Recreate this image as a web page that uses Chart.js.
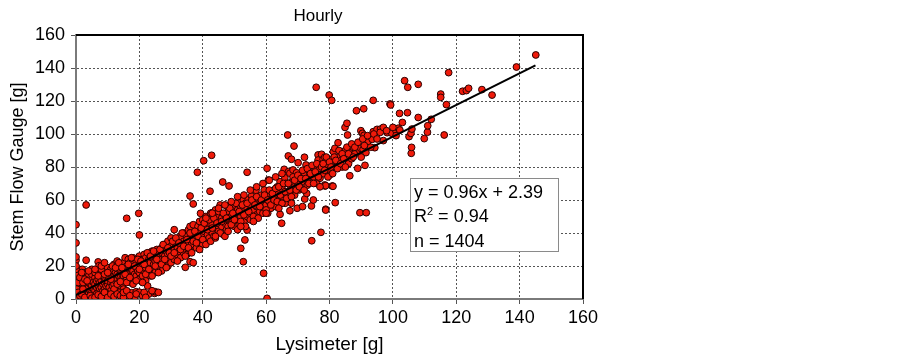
<!DOCTYPE html>
<html>
<head>
<meta charset="utf-8">
<script src="https://cdn.jsdelivr.net/npm/chart.js@4"></script>
<style>
  html, body { margin: 0; padding: 0; background: #fff; }
  #wrap { width: 903px; height: 364px; }
</style>
</head>
<body>
<div id="wrap"><canvas id="c" width="903" height="364"></canvas></div>
<script>
// hourly points (lysimeter x, stem flow gauge y)
const lysX = [
  0,0,0,0,0,0,0,0,0,0,0,0,0,0,0,0.5,0.5,0.5,0.5,0.5,0.5,1,1,1,1,1,1,1,1.5,1.5,1.5,1.5,2,2,2,2,2,2,2.5,2.5,2.5,3,3,3,3,3,3.2,3.2,
  3.5,3.5,4,4,4,4,4,4.5,4.5,5,5,5,5,5,5.5,5.5,6,6,6,6,6.5,6.5,7,7,7,7,7,7.3,7.5,7.5,7.5,8,8,8,8,8.5,8.5,8.5,9,9,9,9,9.5,9.5,9.5,10,10,10,10,10,
  10.5,10.5,11,11,11,11,11.5,11.5,12,12,12,12,12,12.5,12.5,13,13,13,13,13,13.5,13.5,14,14,14,14,14,14.5,14.5,15,15,15,15,15.5,15.5,16,16,16,16,16,16.5,16.5,17,17,17,17,17.5,17.5,17.5,18,18,18,18,18.6,18.5,19,19,19,19,19.5,19.8,20,20,20,20,20,20,
  20.5,21,21,21,21.5,21.5,22,22,22,22,22.6,22.5,23,23,23,23,23.5,23.5,24,24,24,24.8,24.5,25,25,25,25,25.5,26,26,26,26.5,27,27,27,27.5,28,28,28,28.5,29,29,29,29.5,30,30,30,30,
  30.5,31,31,31,31.5,32,32,32,32.5,33,33,33,33.5,34,34,34,34.5,34.5,35,35,35,35.5,36,36,36,36,36,37,37,36.5,37,37,37.5,38,38,38,38.3,38.5,39,39,39,39.3,39.5,40,40,40,40,40.3,
  40.5,41,41,41,41.5,42,42,42,42.3,42.8,42.5,43,43,43,43.5,44,44,44,44.9,45,45,45,45.5,46,46,46.3,46.5,47,47,47.5,47.5,48,48,48.3,48.5,48.9,49,49,49.5,50,50,50,
  50.5,51,51.2,51,51.5,52,52,52,52.8,52.8,53,53.3,53,53.5,54,54,54,54,54.4,55,55,55.4,55.5,56,56,56.8,57,57,57.5,58,58,58.5,59,59.2,59.4,60,60,60.3,60.3,60.7,
  60.5,61,61,61.5,62,62,62.5,63,63,63.5,64,64,64.4,64.4,64.9,65,65,65.7,65.9,66,66.2,66.8,67,67,67.1,67.5,67.5,68,68,68,68.5,68.8,69,69,69.6,69.8,70,70.1,70.4,70.7,
  71,71.5,72,72.1,72.2,72.2,72.6,72.8,73,73.8,74,74.3,74.4,74.9,74.9,75,75.4,75.8,76,76.4,76.4,77,77,77.3,77.5,78,78,78.5,78.5,78.6,78.8,78.8,78.8,78.9,79.1,79.5,79.9,
  80,80.6,80.7,80.9,81.1,81.2,81.7,81.8,82,82.2,82.7,83,83.8,84,84.3,84.9,85,85.5,85.7,86,86.1,86.4,86.4,87,87.5,88,88.5,88.9,89.6,89.6,89.9,89.9,90.4,90.6,90.8,90.9,91.2,91.5,91.6,92,93.3,93.5,93.8,93.8,94.3,95,96.1,97,98.2,99.1,99.3,99.7,
  100.9,101.7,102.1,102.2,103.7,104.6,104.7,105.1,105.7,105.8,105.9,108,109.9,110.9,112.1,115.1,115.1,116.2,116.9,117.6,122,123.2,123.9,128.1,131.3,139,145.1,
  // thicker band
  5,5.5,6,6.5,7,7.5,8,8.5,9,9.5,10,10.5,11,11.5,12,12.5,13,13.5,14,14.5,15,15.5,16,16.5,17,17.5,18,18.5,19,19.5,20,20.5,21,21.5,22,22.5,23,23.5,24,24.5,25,25.5,26,26.5,27,27.5,28,28.5,29,29.5,30,30.5,
  31,31.5,32,32.5,33,33.5,34,34.5,35,35.5,36,36.5,37,37.5,38,38.5,39,39.5,40,40.5,41,41.5,42,42.5,43,43.5,44,44.5,45,45.5,46,46.5,47,47.5,48,48.5,49,49.5,50,50.5,51,51.5,52,52.5,53,53.5,54,54.5,55,55.5,56,56.5,57,57.5,58,58.5,59,59.5,60,
  60.5,61,61.5,62,62.5,63,63.5,64,64.5,65,65.5,66,66.5,67,67.5,68,68.5,69,69.5,70,70.5,71,71.5,72,72.5,73,73.5,74,74.5,75,75.5,76,76.5,77,77.5,78,78.5,79,79.5,80,80.5,81,81.5,82,82.5,83,83.5,84,84.5,85,85.5,86,87,87.5,88,89,90,90.5,91,92,93,94,95,96,97,98,100,101,103,106,108,111,
  0,0,0,0,0,0,0,0,0.3,0.3,0.7,0.7,1.2,1.2,1.8,1.8,2.2,2.2,2.8,2.8,3.5,4,4.5,5,6,7,8,9,10,11,12,13,14,15,15,16,17,19,21,21.5,22,24,26,6,8,9,
  41,43,45,47,49,51,53,55,57,59,61,63,65,44,48,52,56,60,64,68
]
const gaugeY = [
  0,1,2,3,4,6,8,10,12,14,17,23.5,25.5,34,45,0,2,5,9,13,16,0.5,3,6,8,11,15,18,1,4,7,12,0,2,5,9,14,18,3,7,11,1,4,8,13,16,23.5,57,
  2,6,0.5,3,7,10,14,5,9,1,4,8,12,15,6,10,2,5,9,13,7,11,1,4,8,12,22.5,20.2,6,10,15,3,7,11,14,5,9,17,2,6,10,13,8,12,16,4,9,11,14,19,
  7,13,5,10,15,18,8,12,3,9,14,17,21,11,16,6,12,15,19,23,10,14,4.4,8,13,17,20,12,16,9,14,18,22,11,25,3.8,13,17,20,48.9,15,24,10,16,19,22,3.8,14,18,12,17,21,25,1.4,15,4.4,14,19,23,17,51.9,38.8,4.1,12,16,21,26,
  18,14,20,24,17,27,11,19,22,25,7.9,16,3,20,24,28,14,22,18,25,29,3.4,21,4.4,16,23,27,30,19,25,28,22,17,24,31,27,21,26,33,29,20,27,35,24,22,29,32,37,
  26,24,30,42,33,27,31,36,29,25,33,38,30,28,35,40,19.2,32,27,34,38,42,22.6,30,36,44,62.4,22,57.6,33,39,45,35,31,37,41,76.8,44,34,40,47,51.9,37,33,39,43,48,83.8,
  41,36,44,50,39,37,42,46,65.3,87.1,52,40,45,52.3,38,43,48,54,51.9,41,46,50,57,44,49,70.9,39,46,51,56.4,42,48,53,68.5,45,56.4,50,55,47,44,52,57,
  49,48,59,54,45,30.7,50,56,22.6,60,47,35.8,53,58,41.8,50,55,76.8,60.4,52,57,62.4,48,54,59,65.9,51,56,61,53,58,63,55,15.6,66.1,57,62,0.4,79.2,72.1,
  52,59,64,55,58,61,66,56,62,68,60,64,51.3,71.1,45.9,62,67,78.6,73.5,58,70.1,99.4,64,86.7,77.2,53.5,76.2,66,71,84.7,78.2,92.7,63,68,76.5,55,70,82.6,66.1,73.2,
  67,56,71,85.9,60.6,75.2,81.2,64,69,76.2,72,56.4,35.3,60,71.1,74,78.2,128.3,70,87.3,84.2,79.2,73.2,40.4,87.7,84.7,76,69.1,85.9,68.5,54.4,53.9,68.7,82.6,80.2,78,123.6,
  75,84.7,120.4,68.5,68.3,89.3,91.3,58.4,80,83.2,94.7,86,84.2,80,87.9,104,90,106.5,99.4,82,86.2,74.7,90.3,85,91.9,87.9,114.1,79.2,52.3,89.9,91.3,102,100.4,90.7,115.3,99.2,81,88.7,52.3,95,98.8,96.8,120.4,101.4,91.7,102.8,103,96,100.8,118.2,117.6,100.4,
  102.4,103.5,112.5,102.4,132.3,112.9,128.3,98.4,100.4,88.3,91.9,130.1,97.2,101.1,108.9,124.2,122.2,99.4,117.8,137.2,125.9,126.3,127.7,126.9,123.6,140.6,147.9,
  // thicker band
  18,2,16,3,14,1.5,18,1,15,3.5,16,2,12,20,6,19,9,22,10.5,19,6,15,10,21,13,25,9,20,11,24,18,23,10,21,15,28,18,26,14,29,20,24,16,30,21,33,24,19,31,28,26,35,
  28,37,23,34,30,40,32,26,36,31,40,28,35,41,34,38,30,43,36,46,33,42,48,35,43,49,37,46,53,40,47,52,38,49,44,55,45,52,48,58,42,53,47,57,51,44,58,53,48,60,50,57,62,49,56,60,52,63,54,
  60,66,57,64,60,67,59,68,63,58,70,65,61,70,66,62,74,72,66,75,68,73,78,66,73,79,70,76,81,70,77,82,74,68,80,82,78,86,74,83,80,76,86,84,79,90,82,88,85,80,92,88,94,86,92,95,86,97,93,99,92,100,97,101,104,102,104,99,107,103,110,105,
  5,7,9,11,13,15,18,20,1,6,4,10,2,13,3,16,6,10,1,12,11,17,2,0.5,1,2.5,1.5,4,1,3,1.5,3,2,1,4,5,2,3,2,4,1,5,4,18,20,22,
  49,52,55,57,59,62,63,66,68,70,72,74,76,38,41,44,47,52,55,58
]

// fitted line ends, as drawn
const trendX = [0, 145]
const trendY = [2.4, 141.6]

const xTicks = [0, 20, 40, 60, 80, 100, 120, 140, 160]
const yTicks = [0, 20, 40, 60, 80, 100, 120, 140, 160]

const statLines = ['y = 0.96x + 2.39', 'R', ' = 0.94', 'n = 1404']

const FONT = "'Liberation Sans', Arial, sans-serif"

const points = lysX.map((x, i) => ({ x, y: gaugeY[i] }))
const trend = trendX.map((x, i) => ({ x, y: trendY[i] }))

const extras = {
  id: 'extras',
  afterDatasetsDraw(chart) {
    const { ctx, chartArea } = chart
    ctx.save()
    // top and right frame in black
    ctx.strokeStyle = '#000'
    ctx.lineWidth = 2
    ctx.beginPath()
    ctx.moveTo(chartArea.left, chartArea.top)
    ctx.lineTo(chartArea.right, chartArea.top)
    ctx.lineTo(chartArea.right, chartArea.bottom)
    ctx.stroke()

    // stats box
    const bx = 410, by = 178, bw = 148, bh = 73
    ctx.fillStyle = '#fff'
    ctx.fillRect(bx, by, bw, bh)
    ctx.strokeStyle = '#8a8a8a'
    ctx.lineWidth = 1
    ctx.strokeRect(bx + 0.5, by + 0.5, bw, bh)

    ctx.fillStyle = '#000'
    ctx.textBaseline = 'middle'
    ctx.textAlign = 'left'
    ctx.font = '18px ' + FONT
    ctx.fillText(statLines[0], bx + 4, by + 15)
    ctx.fillText(statLines[1], bx + 4, by + 39)
    const rw = ctx.measureText(statLines[1]).width
    ctx.font = '11px ' + FONT
    ctx.fillText('2', bx + 4 + rw, by + 34)
    const sw = ctx.measureText('2').width
    ctx.font = '18px ' + FONT
    ctx.fillText(statLines[2], bx + 4 + rw + sw, by + 39)
    ctx.fillText(statLines[3], bx + 4, by + 64)

    // title
    ctx.textAlign = 'center'
    ctx.font = '17px ' + FONT
    ctx.fillText('Hourly', 318, 16)
    ctx.restore()
  },
}

const grid = {
  color: '#555',
  lineWidth: 1,
  tickLength: 5,
  drawTicks: true,
}

new Chart(document.getElementById('c'), {
  type: 'scatter',
  data: {
    datasets: [
      {
        label: 'Hourly',
        data: points,
        backgroundColor: '#f01a0a',
        borderColor: '#2a0000',
        borderWidth: 1,
        pointRadius: 3.4,
        order: 1,
      },
      {
        type: 'line',
        label: 'fit',
        data: trend,
        borderColor: '#000',
        borderWidth: 2,
        pointRadius: 0,
        fill: false,
        order: 0,
      },
    ],
  },
  plugins: [extras],
  options: {
    responsive: false,
    animation: false,
    layout: { padding: { left: 0, right: 320, top: 35, bottom: 0 } },
    plugins: {
      legend: { display: false },
      tooltip: { enabled: false },
      title: { display: false },
    },
    scales: {
      x: {
        type: 'linear',
        min: 0,
        max: 160,
        afterBuildTicks: (s) => { s.ticks = xTicks.map((v) => ({ value: v })) },
        afterFit: (s) => { s.height = 65 },
        grid: { ...grid },
        border: { display: true, color: '#7a7a7a', width: 2, dash: [2, 2] },
        ticks: { color: '#000', padding: 3, font: { family: FONT, size: 18 } },
        title: {
          display: true,
          text: 'Lysimeter [g]',
          color: '#000',
          font: { family: FONT, size: 19 },
          padding: { top: 8, bottom: 8 },
        },
      },
      y: {
        type: 'linear',
        min: 0,
        max: 160,
        afterBuildTicks: (s) => { s.ticks = yTicks.map((v) => ({ value: v })) },
        afterFit: (s) => { s.width = 76 },
        grid: { ...grid },
        border: { display: true, color: '#7a7a7a', width: 2, dash: [2, 2] },
        ticks: { color: '#000', padding: 6, font: { family: FONT, size: 18 } },
        title: {
          display: true,
          text: 'Stem Flow Gauge [g]',
          color: '#000',
          font: { family: FONT, size: 18 },
          padding: { top: 7, bottom: 7 },
        },
      },
    },
  },
})
</script>
</body>
</html>
